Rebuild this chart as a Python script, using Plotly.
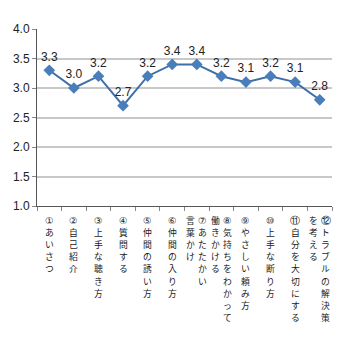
import plotly.graph_objects as go

categories = ["①", "②", "③", "④", "⑤", "⑥", "⑦", "⑧", "⑨", "⑩", "⑪", "⑫"]
values = [3.3, 3.0, 3.2, 2.7, 3.2, 3.4, 3.4, 3.2, 3.1, 3.2, 3.1, 2.8]
# label columns (right-to-left reading order: first column is the rightmost)
label_columns = [
    ["①あいさつ"],
    ["②自己紹介"],
    ["③上手な聴き方"],
    ["④質問する"],
    ["⑤仲間の誘い方"],
    ["⑥仲間の入り方"],
    ["⑦あたたかい", "言葉かけ"],
    ["⑧気持ちをわかって", "働きかける"],
    ["⑨やさしい頼み方"],
    ["⑩上手な断り方"],
    ["⑪自分を大切にする"],
    ["⑫トラブルの解決策", "を考える"],
]
y_ticks = [1.0, 1.5, 2.0, 2.5, 3.0, 3.5, 4.0]

fig = go.Figure()
fig.add_trace(go.Scatter(
    x=categories, y=values, mode="lines+markers+text",
    text=[f"{v:.1f}" for v in values], textposition="top center",
    textfont=dict(family="Liberation Sans, Arial", size=12, color="#222222"),
    line=dict(color="#3F6EA8", width=2),
    marker=dict(symbol="diamond", size=9, color="#4A7EBB"),
    cliponaxis=False,
))

jp = "Noto Sans CJK JP"
circled = set(categories)
step = 12.2
for i, cols in enumerate(label_columns):
    n = len(cols)
    for j, col in enumerate(cols):
        shift = 0 if n == 1 else 6 - 12 * j
        for k, ch in enumerate(col):
            if ch in circled:
                font = dict(family="DejaVu Sans", size=9.5, color="#1a1a1a")
            else:
                font = dict(family=jp, size=8.8, color="#1a1a1a")
            fig.add_annotation(
                x=categories[i], y=0, xref="x", yref="paper",
                xanchor="center", yanchor="middle", xshift=shift,
                yshift=-14 - k * step,
                text=ch, showarrow=False, font=font,
            )

fig.update_layout(
    width=350, height=337,
    margin=dict(l=37, r=18, t=29, b=131),
    paper_bgcolor="white", plot_bgcolor="white",
    showlegend=False,
    xaxis=dict(
        showticklabels=False, showline=True, linecolor="#555555", linewidth=1,
        ticks="outside", ticklen=4, tickcolor="#888888", tickson="boundaries",
        showgrid=False, range=[-0.5, 11.5],
    ),
    yaxis=dict(
        range=[1, 4], tickvals=y_ticks, ticktext=[f"{v:.1f}" for v in y_ticks],
        showline=True, linecolor="#555555", linewidth=1,
        ticks="outside", ticklen=4, tickcolor="#888888",
        gridcolor="#C8C8C8", gridwidth=1.5,
        tickfont=dict(family="Liberation Sans, Arial", size=12, color="#222222"),
        zeroline=False,
    ),
)

fig.write_html("out.html")
